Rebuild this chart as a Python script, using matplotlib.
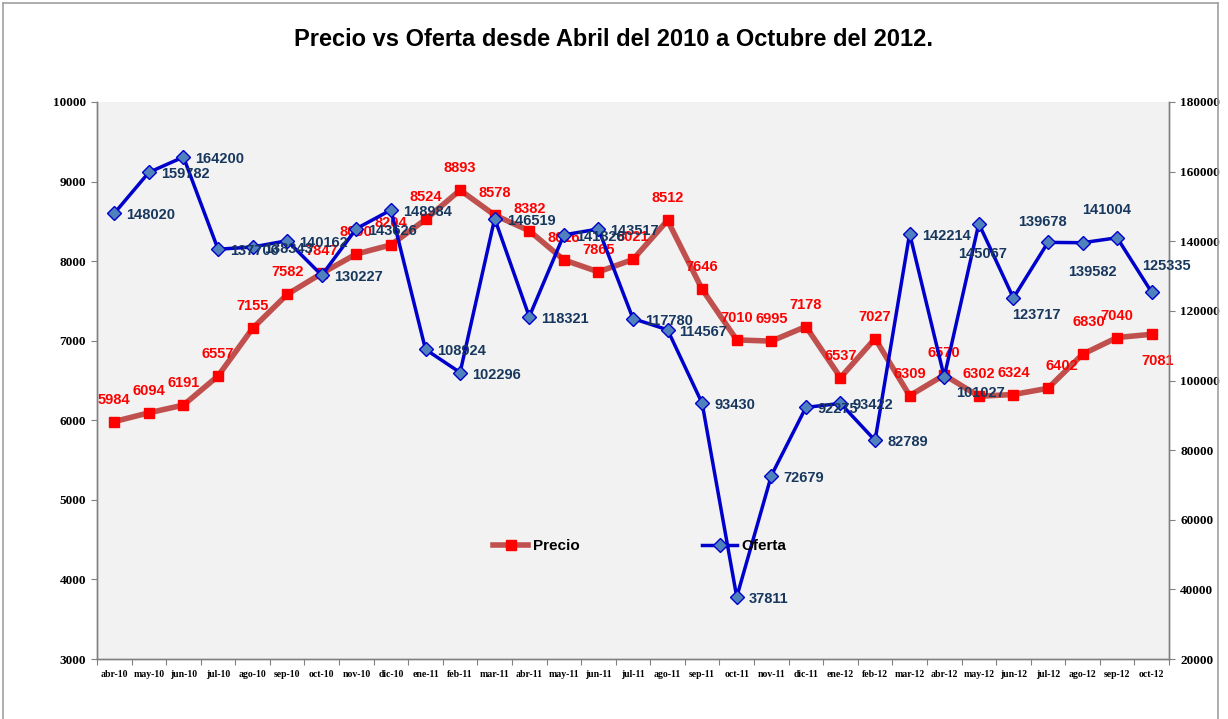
import matplotlib
matplotlib.use("Agg")
import matplotlib.pyplot as plt
from matplotlib import font_manager as fm
from matplotlib.lines import Line2D

months = ["abr-10", "may-10", "jun-10", "jul-10", "ago-10", "sep-10", "oct-10", "nov-10",
          "dic-10", "ene-11", "feb-11", "mar-11", "abr-11", "may-11", "jun-11", "jul-11",
          "ago-11", "sep-11", "oct-11", "nov-11", "dic-11", "ene-12", "feb-12", "mar-12",
          "abr-12", "may-12", "jun-12", "jul-12", "ago-12", "sep-12", "oct-12"]
precio = [5984, 6094, 6191, 6557, 7155, 7582, 7847, 8090, 8204, 8524, 8893, 8578, 8382,
          8016, 7865, 8021, 8512, 7646, 7010, 6995, 7178, 6537, 7027, 6309, 6570, 6302,
          6324, 6402, 6830, 7040, 7081]
oferta = [148020, 159782, 164200, 137706, 138343, 140162, 130227, 143626, 148984, 108924,
          102296, 146519, 118321, 141826, 143517, 117780, 114567, 93430, 37811, 72679,
          92275, 93422, 82789, 142214, 101027, 145067, 123717, 139678, 139582, 141004, 125335]

left_ticks = list(range(3000, 10001, 1000))
right_ticks = list(range(20000, 180001, 20000))

names = {f.name for f in fm.fontManager.ttflist}
narrow = "Liberation Sans Narrow" if "Liberation Sans Narrow" in names else "Liberation Sans"
serif = "Liberation Serif"

fig = plt.figure(figsize=(12.28, 7.19), dpi=100)
ax = fig.add_axes([97/1228, 1-659/719, (1169-97)/1228, (659-102)/719])
ax.set_facecolor("#F2F2F2")
ax2 = ax.twinx()

x = list(range(len(months)))
lp, = ax.plot(x, precio, color="#C0504D", lw=4, marker="s", ms=7,
              mfc="#FF0000", mec="#FF0000", zorder=3, label="Precio")
lo, = ax2.plot(x, oferta, color="#0000CC", lw=2.5, marker="D", ms=7,
               mfc="#4F81BD", mec="#0000CC", mew=1, zorder=3, label="Oferta")

ax.set_xlim(-0.5, len(months) - 0.5)
ax.set_ylim(3000, 10000)
ax2.set_ylim(20000, 180000)

ax.set_xticks([i - 0.5 for i in range(len(months) + 1)])
ax.set_xticklabels([])
ax.set_xticks(x, minor=True)
ax.set_xticklabels(months, minor=True, fontfamily=serif, fontweight="bold", fontsize=7)
ax.tick_params(axis="x", which="minor", length=0, pad=8)
ax.tick_params(axis="x", which="major", length=4, color="#808080")

ax.set_yticks(left_ticks)
ax.set_yticklabels([str(v) for v in left_ticks], fontfamily=serif, fontweight="bold", fontsize=9.5)
ax.tick_params(axis="y", length=4, color="#808080", pad=4)
ax2.set_yticks(right_ticks)
ax2.set_yticklabels([str(v) for v in right_ticks], fontfamily=serif, fontweight="bold", fontsize=9.5)
ax2.tick_params(axis="y", length=4, color="#808080", pad=4)

for a in (ax, ax2):
    a.spines["top"].set_visible(False)
    for s in ("left", "right", "bottom"):
        a.spines[s].set_color("#808080")
        a.spines[s].set_linewidth(1)

lab_size = 10.5

# data labels: Precio above centred (pixel offsets)
p_off = {27: (14, 22), 28: (6, 32), 30: (6, -27)}
for i, v in enumerate(precio):
    dx, dy = p_off.get(i, (0, 22))
    ax.annotate(str(v), (i, v), xytext=(dx, dy), textcoords="offset pixels",
                ha="center", va="center", color="#FF0000", fontweight="bold",
                fontfamily=narrow, fontsize=lab_size, zorder=5)

# Oferta labels: to the right, with exceptions (centre-placed ones)
o_center = {25: (4, -30), 26: (23, -17), 27: (-6, 20), 28: (10, -29),
            29: (-11, 28), 30: (15, 26)}
for i, v in enumerate(oferta):
    if i in o_center:
        dx, dy = o_center[i]
        ax2.annotate(str(v), (i, v), xytext=(dx, dy), textcoords="offset pixels",
                     ha="center", va="center", color="#17375E", fontweight="bold",
                     fontfamily=narrow, fontsize=lab_size, zorder=5)
    else:
        dy = -16 if i == 24 else -2
        ax2.annotate(str(v), (i, v), xytext=(12, dy), textcoords="offset pixels",
                     ha="left", va="center", color="#17375E", fontweight="bold",
                     fontfamily=narrow, fontsize=lab_size, zorder=5)

fig.text(0.5, 1 - 40/719, "Precio vs Oferta desde Abril del 2010 a Octubre del 2012.",
         ha="center", va="center", fontfamily=narrow, fontweight="bold", fontsize=17)

leg = fig.legend(handles=[lp, lo], loc="center", bbox_to_anchor=(640/1228, 1 - 546/719),
                 ncol=2, frameon=False, columnspacing=8, handlelength=2.3, handletextpad=0.3,
                 prop={"family": narrow, "weight": "bold", "size": 11})

# chart border
for xs, ys in (([3/1228, 3/1228], [0, 1 - 3/719]),
               ([3/1228, 1218/1228], [1 - 3/719, 1 - 3/719]),
               ([1218/1228, 1218/1228], [0, 1 - 3/719])):
    fig.add_artist(Line2D(xs, ys, transform=fig.transFigure, color="#A0A0A0", lw=1.2))

fig.savefig("out.png", dpi=100)
